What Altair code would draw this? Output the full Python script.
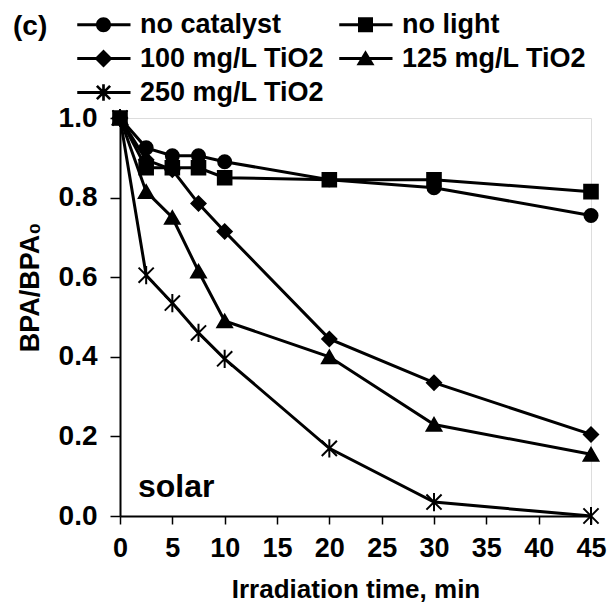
import math
import altair as alt
import pandas as pd

# ---- data ----
times = [0, 2.5, 5, 7.5, 10, 20, 30, 45]
series_names = ["no catalyst", "no light", "100 mg/L TiO2", "125 mg/L TiO2", "250 mg/L TiO2"]
no_catalyst = [1.0, 0.925, 0.905, 0.905, 0.89, 0.845, 0.825, 0.755]
no_light = [1.0, 0.875, 0.875, 0.875, 0.85, 0.845, 0.845, 0.815]
tio2_100 = [1.0, 0.895, 0.87, 0.785, 0.715, 0.445, 0.335, 0.205]
tio2_125 = [1.0, 0.815, 0.75, 0.615, 0.49, 0.40, 0.23, 0.155]
tio2_250 = [1.0, 0.605, 0.535, 0.46, 0.395, 0.17, 0.035, 0.0]
x_ticks = [0, 5, 10, 15, 20, 25, 30, 35, 40, 45]
y_ticks = [0.0, 0.2, 0.4, 0.6, 0.8, 1.0]

rows = []
for name, vals in zip(series_names, [no_catalyst, no_light, tio2_100, tio2_125, tio2_250]):
    for t, v in zip(times, vals):
        rows.append({"time": t, "ratio": v, "series": name})
df = pd.DataFrame(rows)

FONT = "Liberation Sans"

x_enc = alt.X(
    "time:Q",
    scale=alt.Scale(domain=[0, 45], nice=False, zero=False),
    axis=alt.Axis(
        values=x_ticks, title="Irradiation time, min", grid=False,
        labelFont=FONT, labelFontSize=27, labelFontWeight="bold", labelColor="black",
        titleFont=FONT, titleFontSize=26, titleFontWeight="bold", titleColor="black",
        domainColor="black", domainWidth=2, tickColor="black", tickWidth=1.5, tickSize=8,
        labelPadding=11, titlePadding=15, labelFlush=False,
    ),
)
y_enc = alt.Y(
    "ratio:Q",
    scale=alt.Scale(domain=[0, 1], nice=False),
    axis=alt.Axis(
        values=y_ticks, format=".1f", title="BPA/BPA₀", grid=False,
        labelFont=FONT, labelFontSize=28, labelFontWeight="bold", labelColor="black",
        titleFont=FONT, titleFontSize=27, titleFontWeight="bold", titleColor="black",
        titleX=-90, titleY=169, titleBaseline="middle", titleAlign="center", titleAngle=270,
        domainColor="black", domainWidth=2, tickColor="black", tickWidth=1.5, tickSize=10,
        labelPadding=13, labelFlush=False,
    ),
)

lines = alt.Chart(df).mark_line(color="black", strokeWidth=3, clip=False).encode(
    x=x_enc, y=y_enc, detail="series:N"
)

plot_shapes = ["circle", "square", "diamond", "triangle-up",
               "M-1,-1L1,1M-1,1L1,-1M0,-1.2V1.2"]
plot_sizes = [170, 230, 190, 210, 170]
points = alt.Chart(df).mark_point(
    filled=True, fill="black", stroke="black", strokeWidth=2, opacity=1, clip=False
).encode(
    x=x_enc, y=y_enc,
    shape=alt.Shape("series:N", scale=alt.Scale(domain=series_names, range=plot_shapes), legend=None),
    size=alt.Size("series:N", scale=alt.Scale(domain=series_names, range=plot_sizes), legend=None),
)


# legend glyphs: filled outlines only (clockwise), a bar for the line + the marker
def bar(cx, cy, half_len, half_w, angle_deg):
    a = math.radians(angle_deg)
    dx, dy = math.cos(a), math.sin(a)
    nx, ny = -math.sin(a), math.cos(a)
    pts = [
        (cx - half_len * dx - half_w * nx, cy - half_len * dy - half_w * ny),
        (cx + half_len * dx - half_w * nx, cy + half_len * dy - half_w * ny),
        (cx + half_len * dx + half_w * nx, cy + half_len * dy + half_w * ny),
        (cx - half_len * dx + half_w * nx, cy - half_len * dy + half_w * ny),
    ]
    return "M" + "L".join(f"{x:.3f},{y:.3f}" for x, y in pts) + "Z"


LINE = bar(0.05, 0, 3.55, 0.2, 0)
legend_shapes = [
    LINE + "M1,0A1,1 0 1,1 -1,0A1,1 0 1,1 1,0Z",
    LINE + "M-1,-1H1V1H-1Z",
    LINE + "M0,-1.2L1.2,0L0,1.2L-1.2,0Z",
    LINE + "M0,-1.1L1.2,0.9L-1.2,0.9Z",
    LINE + bar(0, 0, 1.25, 0.18, 45) + bar(0, 0, 1.25, 0.18, -45) + bar(0, 0, 1.1, 0.18, 90),
]
legend_def = alt.Legend(
    title=None, orient="none", legendX=-30, legendY=-107, columns=2,
    direction="horizontal",
    padding=0, rowPadding=6, columnPadding=14,
    symbolSize=225, symbolOpacity=1, symbolFillColor="black",
    symbolStrokeWidth=0, labelOffset=23,
    labelFont=FONT, labelFontSize=27, labelFontWeight="bold", labelColor="black",
    labelLimit=400,
)
legend_layer = alt.Chart(df).mark_point(
    filled=True, fill="black", strokeWidth=0, opacity=0
).encode(
    x=x_enc, y=y_enc,
    shape=alt.Shape("series:N", scale=alt.Scale(domain=series_names, range=legend_shapes), legend=legend_def),
)

tag = alt.Chart(pd.DataFrame({"t": ["(c)"]})).mark_text(
    font=FONT, fontSize=28, fontWeight="bold", color="black", align="left", baseline="middle"
).encode(text="t:N", x=alt.value(-107), y=alt.value(-91))

solar = alt.Chart(pd.DataFrame({"t": ["solar"]})).mark_text(
    font=FONT, fontSize=32, fontWeight="bold", color="black", align="left", baseline="alphabetic"
).encode(text="t:N", x=alt.value(18), y=alt.value(379))

chart = alt.layer(lines, points, legend_layer, tag, solar).resolve_scale(
    shape="independent", size="independent"
).properties(
    width=471, height=398,
    autosize=alt.AutoSizeParams(type="none"),
    padding={"left": 112, "top": 110, "right": 16, "bottom": 92},
).configure_view(stroke="black", strokeWidth=2).configure(background="white")

chart.save("out.html", embed_options={"renderer": "svg", "actions": False})
